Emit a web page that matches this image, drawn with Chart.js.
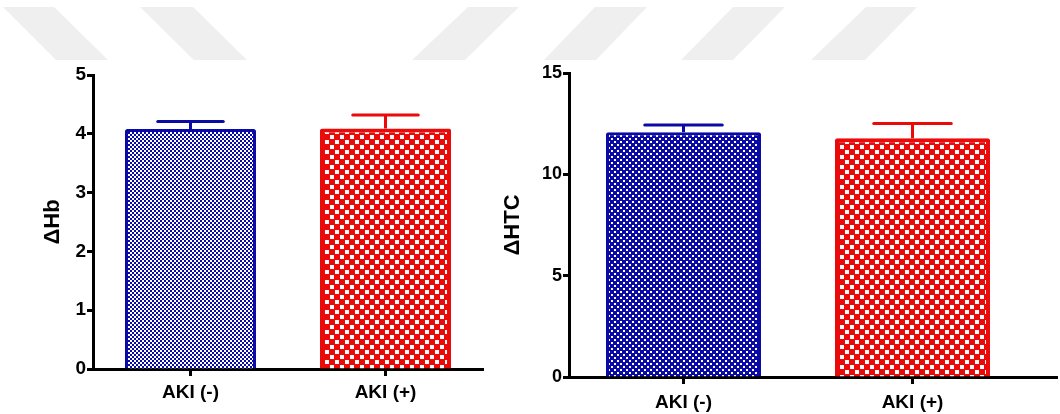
<!DOCTYPE html>
<html>
<head>
<meta charset="utf-8">
<script src="https://cdn.jsdelivr.net/npm/chart.js@4.4.1/dist/chart.umd.min.js"></script>
<style>
  html, body { margin: 0; padding: 0; background: #fff; }
  body { width: 1060px; height: 414px; position: relative; overflow: hidden; }
  #wm { position: absolute; left: 0; top: 0; }
  .box { position: absolute; top: 0; height: 414px; }
  #leftBox { left: 0; width: 500px; }
  #rightBox { left: 500px; width: 560px; }
</style>
</head>
<body>
<svg id="wm" width="1060" height="414">
  <g fill="#efefef">
    <polygon points="3,7 54,7 108,60 56,60"/>
    <polygon points="140,7 193,7 247,60 194,60"/>
    <polygon points="468,7 519,7 465,60 412,60"/>
    <polygon points="595,7 647,7 596,60 544,60"/>
    <polygon points="733,7 785,7 733,60 681,60"/>
    <polygon points="866,7 917,7 865,60 811,60"/>
  </g>
</svg>
<div class="box" id="leftBox"><canvas id="c1"></canvas></div>
<div class="box" id="rightBox"><canvas id="c2"></canvas></div>
<script>
// ---- data ----
const categories = ['AKI (-)', 'AKI (+)'];
const hbMeans = [4.08, 4.09];
const hbErrors = [0.13, 0.23];
const htcMeans = [12.08, 11.78];
const htcErrors = [0.35, 0.73];
const hbTicks = [0, 1, 2, 3, 4, 5];
const htcTicks = [0, 5, 10, 15];
const hbTitle = '\u0394Hb';
const htcTitle = '\u0394HTC';

const BLUE = '#0a0aa6';
const RED = '#ea0a0a';
const FONT = '"Liberation Sans", Arial, sans-serif';

function checker(color, cell, gap) {
  const c = document.createElement('canvas');
  c.width = cell * 2; c.height = cell * 2;
  const g = c.getContext('2d');
  g.fillStyle = color;
  g.fillRect(0, 0, c.width, c.height);
  g.fillStyle = '#ffffff';
  const w = cell - gap;
  g.fillRect(cell, 0, w, w);
  g.fillRect(0, cell, w, w);
  return g.createPattern(c, 'repeat');
}

const errorBars = {
  id: 'errorBars',
  afterDatasetsDraw(chart, args, opts) {
    const ctx = chart.ctx;
    const ys = chart.scales.y;
    chart.data.datasets.forEach((ds, di) => {
      const meta = chart.getDatasetMeta(di);
      meta.data.forEach((el, i) => {
        const top = ys.getPixelForValue(ds.data[i] + ds.errors[i]);
        const color = ds.borderColor[i];
        ctx.save();
        ctx.strokeStyle = color;
        ctx.lineWidth = 3;
        ctx.lineCap = 'butt';
        ctx.beginPath();
        ctx.moveTo(el.x, el.y);
        ctx.lineTo(el.x, top);
        ctx.stroke();
        ctx.lineCap = 'round';
        ctx.beginPath();
        ctx.moveTo(el.x - el.width / 4, top);
        ctx.lineTo(el.x + el.width / 4, top);
        ctx.stroke();
        ctx.restore();
      });
    });
  }
};

const axisExtend = {
  id: 'axisExtend',
  afterDraw(chart, args, opts) {
    if (!opts.to) return;
    const ctx = chart.ctx;
    const xs = chart.scales.x;
    ctx.save();
    ctx.strokeStyle = '#000';
    ctx.lineWidth = 3;
    ctx.beginPath();
    ctx.moveTo(chart.chartArea.right - 1, xs.top + 0.5);
    ctx.lineTo(opts.to, xs.top + 0.5);
    ctx.stroke();
    ctx.restore();
  }
};

function makeChart(id, cfg) {
  return new Chart(document.getElementById(id), {
    type: 'bar',
    data: {
      labels: categories,
      datasets: [{
        data: cfg.means,
        errors: cfg.errors,
        backgroundColor: [checker(BLUE, cfg.blueCell, cfg.blueGap), checker(RED, cfg.redCell, 1)],
        borderColor: [BLUE, RED],
        borderWidth: [3, 4],
        borderRadius: 2,
        borderSkipped: 'bottom',
        categoryPercentage: 1,
        barPercentage: cfg.barPct
      }]
    },
    options: {
      responsive: true,
      maintainAspectRatio: false,
      animation: false,
      events: [],
      layout: { padding: cfg.padding },
      plugins: {
        legend: { display: false },
        tooltip: { enabled: false },
        axisExtend: { to: cfg.extendTo }
      },
      scales: {
        x: {
          z: 1,
          afterFit: s => { s.height = cfg.xHeight; },
          border: { display: true, color: '#000', width: 3 },
          grid: {
            display: true, offset: false, drawOnChartArea: false,
            drawTicks: true, tickLength: 7, tickWidth: 3, tickColor: '#000'
          },
          ticks: {
            color: '#000', padding: cfg.xPad,
            font: { family: FONT, size: 19, weight: 'bold' }
          }
        },
        y: {
          min: 0, max: cfg.ticks[cfg.ticks.length - 1],
          afterFit: s => { s.width = cfg.yWidth; },
          afterBuildTicks: s => { s.ticks = cfg.ticks.map(v => ({ value: v })); },
          border: { display: true, color: '#000', width: 3 },
          grid: {
            display: true, drawOnChartArea: false,
            drawTicks: true, tickLength: 6, tickWidth: 3, tickColor: '#000'
          },
          ticks: {
            color: '#000', padding: 1,
            font: { family: FONT, size: cfg.yTickSize, weight: 'bold' }
          },
          title: {
            display: true, text: cfg.title, color: '#000',
            padding: { top: cfg.titlePad, bottom: 0 },
            font: { family: FONT, size: cfg.titleSize, weight: 'bold' }
          }
        }
      }
    },
    plugins: [errorBars, axisExtend]
  });
}

makeChart('c1', {
  means: hbMeans, errors: hbErrors, ticks: hbTicks, title: hbTitle,
  blueCell: 2, blueGap: 0, redCell: 5, barPct: 0.672,
  padding: { top: 75, right: 17, left: 0, bottom: 0 },
  xHeight: 45, yWidth: 93, xPad: 5, yTickSize: 19, titleSize: 22, titlePad: 40, extendTo: 0
});

makeChart('c2', {
  means: htcMeans, errors: htcErrors, ticks: htcTicks, title: htcTitle,
  blueCell: 3, blueGap: 1, redCell: 5, barPct: 0.677,
  padding: { top: 73, right: 33, left: 0, bottom: 0 },
  xHeight: 37, yWidth: 69, xPad: 7, yTickSize: 18, titleSize: 22, titlePad: 0, extendTo: 558
});
</script>
</body>
</html>
